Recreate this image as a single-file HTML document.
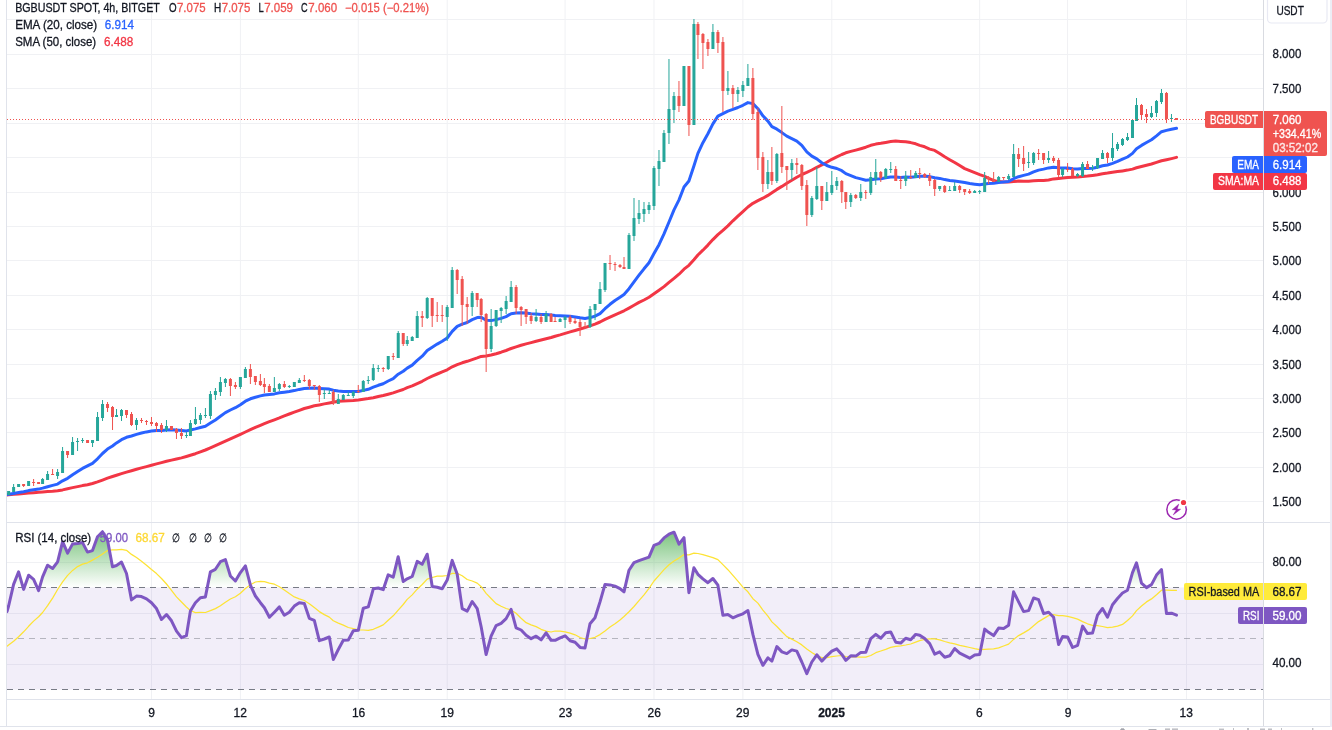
<!DOCTYPE html>
<html><head><meta charset="utf-8"><title>BGBUSDT chart</title>
<style>html,body{margin:0;padding:0;background:#fff;}body{width:1332px;height:730px;overflow:hidden;font-family:"Liberation Sans",Arial,sans-serif;}svg{display:block}</style>
</head><body>
<svg width="1332" height="730" viewBox="0 0 1332 730" font-family="'Liberation Sans', Arial, sans-serif" font-size="12">
<defs>
<linearGradient id="gob" gradientUnits="userSpaceOnUse" x1="0" y1="512" x2="0" y2="587.5"><stop offset="0" stop-color="#4caf50" stop-opacity="1"/><stop offset="1" stop-color="#4caf50" stop-opacity="0"/></linearGradient>
<clipPath id="cm"><rect x="7" y="0" width="1256" height="522"/></clipPath>
<clipPath id="cr"><rect x="7" y="523" width="1256" height="176"/></clipPath>
<clipPath id="cob"><rect x="7" y="523" width="1256" height="64.5"/></clipPath>
</defs>
<rect width="1332" height="730" fill="#fff"/>
<g stroke="#f0f1f4" stroke-width="1" shape-rendering="crispEdges">
<line x1="7" x2="1263" y1="19.5" y2="19.5"/>
<line x1="7" x2="1263" y1="54.5" y2="54.5"/>
<line x1="7" x2="1263" y1="88.5" y2="88.5"/>
<line x1="7" x2="1263" y1="123.5" y2="123.5"/>
<line x1="7" x2="1263" y1="157.5" y2="157.5"/>
<line x1="7" x2="1263" y1="192.5" y2="192.5"/>
<line x1="7" x2="1263" y1="226.5" y2="226.5"/>
<line x1="7" x2="1263" y1="260.5" y2="260.5"/>
<line x1="7" x2="1263" y1="295.5" y2="295.5"/>
<line x1="7" x2="1263" y1="329.5" y2="329.5"/>
<line x1="7" x2="1263" y1="364.5" y2="364.5"/>
<line x1="7" x2="1263" y1="398.5" y2="398.5"/>
<line x1="7" x2="1263" y1="432.5" y2="432.5"/>
<line x1="7" x2="1263" y1="467.5" y2="467.5"/>
<line x1="7" x2="1263" y1="501.5" y2="501.5"/>
<line x1="151.48" x2="151.48" y1="0" y2="699" shape-rendering="auto"/>
<line x1="240.39" x2="240.39" y1="0" y2="699" shape-rendering="auto"/>
<line x1="358.27" x2="358.27" y1="0" y2="699" shape-rendering="auto"/>
<line x1="447.19" x2="447.19" y1="0" y2="699" shape-rendering="auto"/>
<line x1="565.07" x2="565.07" y1="0" y2="699" shape-rendering="auto"/>
<line x1="653.98" x2="653.98" y1="0" y2="699" shape-rendering="auto"/>
<line x1="742.89" x2="742.89" y1="0" y2="699" shape-rendering="auto"/>
<line x1="831.80" x2="831.80" y1="0" y2="699" shape-rendering="auto"/>
<line x1="979.66" x2="979.66" y1="0" y2="699" shape-rendering="auto"/>
<line x1="1067.57" x2="1067.57" y1="0" y2="699" shape-rendering="auto"/>
<line x1="1186.45" x2="1186.45" y1="0" y2="699" shape-rendering="auto"/>
<line x1="7" x2="1263" y1="562.5" y2="562.5"/>
<line x1="7" x2="1263" y1="613.5" y2="613.5"/>
<line x1="7" x2="1263" y1="664.5" y2="664.5"/>
</g>
<g clip-path="url(#cm)" fill="none" stroke-linejoin="round" stroke-linecap="round">
<path d="M7.0,494.9 L8.6,494.8 L13.6,494.3 L18.6,493.9 L23.6,493.5 L28.6,493.1 L33.6,492.7 L38.6,492.3 L42.6,492.0 L47.6,491.6 L52.6,491.3 L57.6,490.8 L62.6,489.9 L67.6,488.8 L72.6,487.6 L77.6,486.6 L82.5,485.6 L87.5,484.7 L92.5,483.5 L97.5,481.9 L102.5,480.1 L107.5,478.2 L112.5,476.5 L116.5,475.2 L121.5,473.6 L126.5,472.1 L131.5,470.7 L136.5,469.3 L141.5,467.9 L146.5,466.6 L151.5,465.2 L156.5,463.9 L161.5,462.6 L166.5,461.3 L171.5,460.1 L176.5,459.0 L181.5,457.9 L186.4,456.5 L190.4,455.3 L195.4,453.7 L200.4,451.9 L205.4,450.0 L210.4,447.9 L215.4,445.7 L220.4,443.4 L225.4,441.2 L230.4,438.9 L235.4,436.7 L240.4,434.4 L245.4,432.0 L250.4,429.7 L255.4,427.4 L260.4,425.3 L264.4,423.6 L269.4,421.7 L274.4,419.8 L279.4,417.9 L284.3,415.9 L289.3,414.0 L294.3,412.2 L299.3,410.3 L304.3,408.5 L309.3,407.2 L314.3,405.8 L319.3,404.9 L324.3,403.9 L329.3,403.0 L333.3,402.2 L338.3,401.3 L343.3,400.9 L348.3,400.7 L353.3,400.4 L358.3,399.9 L363.3,399.2 L368.3,398.6 L373.3,397.7 L378.3,396.5 L383.2,395.5 L388.2,394.2 L393.2,392.9 L398.2,391.1 L403.2,389.5 L407.2,387.6 L412.2,385.9 L417.2,383.6 L422.2,381.3 L427.2,378.5 L432.2,376.1 L437.2,374.0 L442.2,371.9 L447.2,369.8 L452.2,366.8 L457.2,364.6 L462.2,362.8 L467.2,361.3 L472.2,359.6 L477.2,357.9 L481.2,356.4 L486.1,355.9 L491.1,355.0 L496.1,353.7 L501.1,352.2 L506.1,350.5 L511.1,348.5 L516.1,346.9 L521.1,345.3 L526.1,343.9 L531.1,342.6 L536.1,341.2 L541.1,340.0 L546.1,338.7 L551.1,337.5 L555.1,336.2 L560.1,334.9 L565.1,333.4 L570.1,331.9 L575.1,330.5 L580.1,329.0 L585.0,327.6 L590.0,325.9 L595.0,324.1 L600.0,322.0 L605.0,319.4 L610.0,317.1 L615.0,314.8 L620.0,312.7 L624.0,310.8 L629.0,308.1 L634.0,305.3 L639.0,302.4 L644.0,300.0 L649.0,297.2 L654.0,293.7 L659.0,290.2 L664.0,286.6 L669.0,282.4 L674.0,278.4 L679.0,274.2 L684.0,269.2 L688.9,265.3 L693.9,259.7 L697.9,255.0 L702.9,250.2 L707.9,245.1 L712.9,239.6 L717.9,234.6 L722.9,230.4 L727.9,225.9 L732.9,220.8 L737.9,216.1 L742.9,211.6 L747.9,207.0 L752.9,203.3 L757.9,200.7 L762.9,198.2 L767.9,195.4 L771.9,192.7 L776.9,189.4 L781.9,186.4 L786.8,183.3 L791.8,180.3 L796.8,177.2 L801.8,174.5 L806.8,172.4 L811.8,170.0 L816.8,167.3 L821.8,164.9 L826.8,162.2 L831.8,159.3 L836.8,156.8 L841.8,154.5 L845.8,152.8 L850.8,151.4 L855.8,150.1 L860.8,148.7 L865.8,147.2 L870.8,145.3 L875.8,144.1 L880.8,143.3 L885.7,142.4 L890.7,141.6 L895.7,141.1 L900.7,141.4 L905.7,141.7 L910.7,142.6 L915.7,143.8 L919.7,145.4 L924.7,146.8 L929.7,149.1 L934.7,150.4 L939.7,153.6 L944.7,156.8 L949.7,159.7 L954.7,162.5 L959.7,165.6 L964.7,168.6 L969.7,170.7 L974.7,172.7 L979.7,174.7 L984.7,176.4 L988.6,178.3 L993.6,180.4 L998.6,181.6 L1003.6,182.0 L1008.6,181.9 L1013.6,181.5 L1018.6,181.1 L1023.6,181.3 L1028.6,181.2 L1033.6,180.8 L1038.6,180.6 L1043.6,180.5 L1048.6,180.0 L1053.6,178.9 L1058.6,178.5 L1062.6,178.1 L1067.6,177.5 L1072.6,177.2 L1077.6,177.0 L1082.6,176.6 L1087.5,176.1 L1092.5,175.4 L1097.5,174.7 L1102.5,173.8 L1107.5,173.1 L1112.5,172.2 L1117.5,171.6 L1122.5,170.9 L1127.5,170.1 L1132.5,169.1 L1136.5,167.8 L1141.5,166.5 L1146.5,165.2 L1151.5,164.0 L1156.5,162.4 L1161.5,160.8 L1166.5,159.7 L1171.5,158.6 L1176.5,157.4" stroke="#f23645" stroke-width="3"/>
<path d="M7.0,494.4 L8.6,494.2 L13.6,493.4 L18.6,492.5 L23.6,491.7 L28.6,490.6 L33.6,489.8 L38.6,489.1 L42.6,488.1 L47.6,486.7 L52.6,485.4 L57.6,484.1 L62.6,480.8 L67.6,478.3 L72.6,474.8 L77.6,471.5 L82.5,468.4 L87.5,465.8 L92.5,463.3 L97.5,458.8 L102.5,453.5 L107.5,449.1 L112.5,446.0 L116.5,442.9 L121.5,439.7 L126.5,437.3 L131.5,436.0 L136.5,434.4 L141.5,433.0 L146.5,431.9 L151.5,431.1 L156.5,430.5 L161.5,430.4 L166.5,429.9 L171.5,429.8 L176.5,430.1 L181.5,430.5 L186.4,430.9 L190.4,430.0 L195.4,428.9 L200.4,427.5 L205.4,426.3 L210.4,423.1 L215.4,420.0 L220.4,416.3 L225.4,412.6 L230.4,410.0 L235.4,407.7 L240.4,404.7 L245.4,401.2 L250.4,398.8 L255.4,397.2 L260.4,395.9 L264.4,395.0 L269.4,394.5 L274.4,393.9 L279.4,392.8 L284.3,392.2 L289.3,391.5 L294.3,390.6 L299.3,389.4 L304.3,388.5 L309.3,388.2 L314.3,387.9 L319.3,388.4 L324.3,388.8 L329.3,389.1 L333.3,390.3 L338.3,391.1 L343.3,391.4 L348.3,391.6 L353.3,391.5 L358.3,391.5 L363.3,390.4 L368.3,389.3 L373.3,387.2 L378.3,385.3 L383.2,383.7 L388.2,381.0 L393.2,378.6 L398.2,374.2 L403.2,371.2 L407.2,368.1 L412.2,365.1 L417.2,360.3 L422.2,356.2 L427.2,350.5 L432.2,347.2 L437.2,344.1 L442.2,341.3 L447.2,338.0 L452.2,331.4 L457.2,326.4 L462.2,324.2 L467.2,322.5 L472.2,319.6 L477.2,317.6 L481.2,317.2 L486.1,320.2 L491.1,320.6 L496.1,319.6 L501.1,318.4 L506.1,316.6 L511.1,313.7 L516.1,313.1 L521.1,312.7 L526.1,313.0 L531.1,313.7 L536.1,313.9 L541.1,314.6 L546.1,314.4 L551.1,315.0 L555.1,315.6 L560.1,315.8 L565.1,315.9 L570.1,316.3 L575.1,316.9 L580.1,317.8 L585.0,318.5 L590.0,317.6 L595.0,316.2 L600.0,313.6 L605.0,308.7 L610.0,304.3 L615.0,300.5 L620.0,297.2 L624.0,294.4 L629.0,288.7 L634.0,281.9 L639.0,275.2 L644.0,268.8 L649.0,262.7 L654.0,253.5 L659.0,244.7 L664.0,233.9 L669.0,222.0 L674.0,209.9 L679.0,199.9 L684.0,187.0 L688.9,181.0 L693.9,166.0 L697.9,153.4 L702.9,142.7 L707.9,133.7 L712.9,123.9 L717.9,116.1 L722.9,113.6 L727.9,111.1 L732.9,109.4 L737.9,107.5 L742.9,105.3 L747.9,102.6 L752.9,103.6 L757.9,108.7 L762.9,115.8 L767.9,121.1 L771.9,126.7 L776.9,129.2 L781.9,132.6 L786.8,136.1 L791.8,138.6 L796.8,141.1 L801.8,145.3 L806.8,151.8 L811.8,156.1 L816.8,158.9 L821.8,162.8 L826.8,165.5 L831.8,167.3 L836.8,168.5 L841.8,170.7 L845.8,173.6 L850.8,175.6 L855.8,177.6 L860.8,178.9 L865.8,180.2 L870.8,179.8 L875.8,179.0 L880.8,178.8 L885.7,177.8 L890.7,176.9 L895.7,177.1 L900.7,177.4 L905.7,177.1 L910.7,177.2 L915.7,176.7 L919.7,176.3 L924.7,176.3 L929.7,176.6 L934.7,177.7 L939.7,178.4 L944.7,179.6 L949.7,180.5 L954.7,181.0 L959.7,181.7 L964.7,182.6 L969.7,183.5 L974.7,184.2 L979.7,184.8 L984.7,184.0 L988.6,183.5 L993.6,183.2 L998.6,182.5 L1003.6,182.0 L1008.6,181.4 L1013.6,178.7 L1018.6,176.7 L1023.6,175.4 L1028.6,174.1 L1033.6,171.9 L1038.6,170.1 L1043.6,169.1 L1048.6,167.9 L1053.6,167.2 L1058.6,167.8 L1062.6,167.9 L1067.6,168.0 L1072.6,168.7 L1077.6,169.1 L1082.6,168.6 L1087.5,168.5 L1092.5,168.3 L1097.5,167.2 L1102.5,165.8 L1107.5,165.0 L1112.5,163.3 L1117.5,161.4 L1122.5,159.2 L1127.5,157.0 L1132.5,153.4 L1136.5,148.7 L1141.5,145.4 L1146.5,142.5 L1151.5,139.7 L1156.5,135.9 L1161.5,131.7 L1166.5,130.4 L1171.5,129.2 L1176.5,128.3" stroke="#2962ff" stroke-width="3"/>
</g>
<g clip-path="url(#cm)"><g transform="translate(0.1307,0) scale(0.999006,1)">
<rect x="8" y="491" width="1" height="4" fill="#26a69a"/>
<rect x="7" y="491" width="3" height="4" fill="#26a69a"/>
<rect x="13" y="484" width="1" height="8" fill="#26a69a"/>
<rect x="12" y="487" width="3" height="5" fill="#26a69a"/>
<rect x="18" y="484" width="1" height="3" fill="#26a69a"/>
<rect x="17" y="484" width="3" height="3" fill="#26a69a"/>
<rect x="23" y="484" width="1" height="3" fill="#ef5350"/>
<rect x="22" y="484" width="3" height="2" fill="#ef5350"/>
<rect x="28" y="481" width="1" height="5" fill="#26a69a"/>
<rect x="27" y="481" width="3" height="5" fill="#26a69a"/>
<rect x="33" y="479" width="1" height="7" fill="#ef5350"/>
<rect x="32" y="482" width="3" height="1" fill="#ef5350"/>
<rect x="38" y="482" width="1" height="2" fill="#ef5350"/>
<rect x="37" y="482" width="3" height="2" fill="#ef5350"/>
<rect x="42" y="478" width="1" height="6" fill="#26a69a"/>
<rect x="41" y="479" width="3" height="5" fill="#26a69a"/>
<rect x="47" y="471" width="1" height="9" fill="#26a69a"/>
<rect x="46" y="474" width="3" height="6" fill="#26a69a"/>
<rect x="52" y="469" width="1" height="6" fill="#ef5350"/>
<rect x="51" y="474" width="3" height="1" fill="#ef5350"/>
<rect x="57" y="469" width="1" height="10" fill="#26a69a"/>
<rect x="56" y="472" width="3" height="4" fill="#26a69a"/>
<rect x="62" y="447" width="1" height="26" fill="#26a69a"/>
<rect x="61" y="451" width="3" height="22" fill="#26a69a"/>
<rect x="67" y="451" width="1" height="7" fill="#ef5350"/>
<rect x="66" y="451" width="3" height="4" fill="#ef5350"/>
<rect x="72" y="437" width="1" height="18" fill="#26a69a"/>
<rect x="71" y="442" width="3" height="13" fill="#26a69a"/>
<rect x="77" y="438" width="1" height="13" fill="#26a69a"/>
<rect x="76" y="441" width="3" height="1" fill="#26a69a"/>
<rect x="82" y="438" width="1" height="5" fill="#26a69a"/>
<rect x="81" y="440" width="3" height="1" fill="#26a69a"/>
<rect x="87" y="440" width="1" height="3" fill="#ef5350"/>
<rect x="86" y="440" width="3" height="3" fill="#ef5350"/>
<rect x="92" y="440" width="1" height="7" fill="#26a69a"/>
<rect x="91" y="440" width="3" height="3" fill="#26a69a"/>
<rect x="97" y="412" width="1" height="29" fill="#26a69a"/>
<rect x="96" y="417" width="3" height="24" fill="#26a69a"/>
<rect x="102" y="400" width="1" height="21" fill="#26a69a"/>
<rect x="101" y="404" width="3" height="14" fill="#26a69a"/>
<rect x="107" y="402" width="1" height="10" fill="#ef5350"/>
<rect x="106" y="404" width="3" height="4" fill="#ef5350"/>
<rect x="112" y="406" width="1" height="24" fill="#ef5350"/>
<rect x="111" y="407" width="3" height="10" fill="#ef5350"/>
<rect x="116" y="409" width="1" height="8" fill="#26a69a"/>
<rect x="115" y="415" width="3" height="2" fill="#26a69a"/>
<rect x="121" y="409" width="1" height="12" fill="#26a69a"/>
<rect x="120" y="410" width="3" height="6" fill="#26a69a"/>
<rect x="126" y="410" width="1" height="8" fill="#ef5350"/>
<rect x="125" y="410" width="3" height="5" fill="#ef5350"/>
<rect x="131" y="412" width="1" height="14" fill="#ef5350"/>
<rect x="130" y="414" width="3" height="11" fill="#ef5350"/>
<rect x="136" y="418" width="1" height="12" fill="#26a69a"/>
<rect x="135" y="420" width="3" height="5" fill="#26a69a"/>
<rect x="141" y="418" width="1" height="5" fill="#ef5350"/>
<rect x="140" y="420" width="3" height="1" fill="#ef5350"/>
<rect x="146" y="420" width="1" height="5" fill="#ef5350"/>
<rect x="145" y="421" width="3" height="1" fill="#ef5350"/>
<rect x="151" y="417" width="1" height="9" fill="#ef5350"/>
<rect x="150" y="422" width="3" height="2" fill="#ef5350"/>
<rect x="156" y="422" width="1" height="10" fill="#ef5350"/>
<rect x="155" y="423" width="3" height="3" fill="#ef5350"/>
<rect x="161" y="423" width="1" height="10" fill="#ef5350"/>
<rect x="160" y="425" width="3" height="5" fill="#ef5350"/>
<rect x="166" y="420" width="1" height="12" fill="#26a69a"/>
<rect x="165" y="426" width="3" height="4" fill="#26a69a"/>
<rect x="171" y="426" width="1" height="4" fill="#ef5350"/>
<rect x="170" y="426" width="3" height="4" fill="#ef5350"/>
<rect x="176" y="428" width="1" height="11" fill="#ef5350"/>
<rect x="175" y="429" width="3" height="4" fill="#ef5350"/>
<rect x="181" y="428" width="1" height="11" fill="#ef5350"/>
<rect x="180" y="433" width="3" height="3" fill="#ef5350"/>
<rect x="186" y="432" width="1" height="6" fill="#26a69a"/>
<rect x="185" y="435" width="3" height="1" fill="#26a69a"/>
<rect x="190" y="420" width="1" height="16" fill="#26a69a"/>
<rect x="189" y="423" width="3" height="13" fill="#26a69a"/>
<rect x="195" y="407" width="1" height="18" fill="#26a69a"/>
<rect x="194" y="419" width="3" height="5" fill="#26a69a"/>
<rect x="200" y="413" width="1" height="11" fill="#26a69a"/>
<rect x="199" y="415" width="3" height="5" fill="#26a69a"/>
<rect x="205" y="408" width="1" height="10" fill="#26a69a"/>
<rect x="204" y="415" width="3" height="1" fill="#26a69a"/>
<rect x="210" y="391" width="1" height="28" fill="#26a69a"/>
<rect x="209" y="394" width="3" height="22" fill="#26a69a"/>
<rect x="215" y="388" width="1" height="12" fill="#26a69a"/>
<rect x="214" y="391" width="3" height="4" fill="#26a69a"/>
<rect x="220" y="377" width="1" height="19" fill="#26a69a"/>
<rect x="219" y="382" width="3" height="10" fill="#26a69a"/>
<rect x="225" y="378" width="1" height="9" fill="#26a69a"/>
<rect x="224" y="379" width="3" height="4" fill="#26a69a"/>
<rect x="230" y="378" width="1" height="18" fill="#ef5350"/>
<rect x="229" y="379" width="3" height="7" fill="#ef5350"/>
<rect x="235" y="382" width="1" height="7" fill="#ef5350"/>
<rect x="234" y="385" width="3" height="2" fill="#ef5350"/>
<rect x="240" y="377" width="1" height="12" fill="#26a69a"/>
<rect x="239" y="377" width="3" height="10" fill="#26a69a"/>
<rect x="245" y="367" width="1" height="11" fill="#26a69a"/>
<rect x="244" y="369" width="3" height="9" fill="#26a69a"/>
<rect x="250" y="364" width="1" height="20" fill="#ef5350"/>
<rect x="249" y="369" width="3" height="8" fill="#ef5350"/>
<rect x="255" y="376" width="1" height="9" fill="#ef5350"/>
<rect x="254" y="376" width="3" height="6" fill="#ef5350"/>
<rect x="260" y="374" width="1" height="12" fill="#ef5350"/>
<rect x="259" y="381" width="3" height="4" fill="#ef5350"/>
<rect x="264" y="378" width="1" height="15" fill="#ef5350"/>
<rect x="263" y="384" width="3" height="3" fill="#ef5350"/>
<rect x="269" y="384" width="1" height="8" fill="#ef5350"/>
<rect x="268" y="386" width="3" height="6" fill="#ef5350"/>
<rect x="274" y="377" width="1" height="15" fill="#26a69a"/>
<rect x="273" y="388" width="3" height="4" fill="#26a69a"/>
<rect x="279" y="383" width="1" height="8" fill="#26a69a"/>
<rect x="278" y="384" width="3" height="5" fill="#26a69a"/>
<rect x="284" y="381" width="1" height="7" fill="#ef5350"/>
<rect x="283" y="384" width="3" height="3" fill="#ef5350"/>
<rect x="289" y="385" width="1" height="3" fill="#26a69a"/>
<rect x="288" y="386" width="3" height="1" fill="#26a69a"/>
<rect x="294" y="382" width="1" height="5" fill="#26a69a"/>
<rect x="293" y="382" width="3" height="5" fill="#26a69a"/>
<rect x="299" y="378" width="1" height="5" fill="#26a69a"/>
<rect x="298" y="380" width="3" height="3" fill="#26a69a"/>
<rect x="304" y="375" width="1" height="7" fill="#ef5350"/>
<rect x="303" y="380" width="3" height="1" fill="#ef5350"/>
<rect x="309" y="379" width="1" height="10" fill="#ef5350"/>
<rect x="308" y="380" width="3" height="6" fill="#ef5350"/>
<rect x="314" y="385" width="1" height="5" fill="#ef5350"/>
<rect x="313" y="385" width="3" height="1" fill="#ef5350"/>
<rect x="319" y="385" width="1" height="17" fill="#ef5350"/>
<rect x="318" y="386" width="3" height="9" fill="#ef5350"/>
<rect x="324" y="389" width="1" height="10" fill="#26a69a"/>
<rect x="323" y="393" width="3" height="1" fill="#26a69a"/>
<rect x="329" y="390" width="1" height="4" fill="#26a69a"/>
<rect x="328" y="393" width="3" height="1" fill="#26a69a"/>
<rect x="333" y="390" width="1" height="15" fill="#ef5350"/>
<rect x="332" y="392" width="3" height="11" fill="#ef5350"/>
<rect x="338" y="394" width="1" height="10" fill="#26a69a"/>
<rect x="337" y="399" width="3" height="5" fill="#26a69a"/>
<rect x="343" y="394" width="1" height="6" fill="#26a69a"/>
<rect x="342" y="395" width="3" height="5" fill="#26a69a"/>
<rect x="348" y="392" width="1" height="4" fill="#26a69a"/>
<rect x="347" y="395" width="3" height="1" fill="#26a69a"/>
<rect x="353" y="391" width="1" height="7" fill="#26a69a"/>
<rect x="352" y="392" width="3" height="4" fill="#26a69a"/>
<rect x="358" y="385" width="1" height="8" fill="#ef5350"/>
<rect x="357" y="391" width="3" height="1" fill="#ef5350"/>
<rect x="363" y="380" width="1" height="12" fill="#26a69a"/>
<rect x="362" y="381" width="3" height="11" fill="#26a69a"/>
<rect x="368" y="376" width="1" height="8" fill="#26a69a"/>
<rect x="367" y="380" width="3" height="1" fill="#26a69a"/>
<rect x="373" y="364" width="1" height="17" fill="#26a69a"/>
<rect x="372" y="368" width="3" height="12" fill="#26a69a"/>
<rect x="378" y="365" width="1" height="7" fill="#26a69a"/>
<rect x="377" y="368" width="3" height="1" fill="#26a69a"/>
<rect x="383" y="367" width="1" height="5" fill="#ef5350"/>
<rect x="382" y="368" width="3" height="1" fill="#ef5350"/>
<rect x="388" y="356" width="1" height="14" fill="#26a69a"/>
<rect x="387" y="356" width="3" height="13" fill="#26a69a"/>
<rect x="393" y="353" width="1" height="7" fill="#ef5350"/>
<rect x="392" y="356" width="3" height="1" fill="#ef5350"/>
<rect x="398" y="331" width="1" height="27" fill="#26a69a"/>
<rect x="397" y="333" width="3" height="25" fill="#26a69a"/>
<rect x="403" y="333" width="1" height="13" fill="#ef5350"/>
<rect x="402" y="333" width="3" height="11" fill="#ef5350"/>
<rect x="407" y="336" width="1" height="10" fill="#26a69a"/>
<rect x="406" y="340" width="3" height="4" fill="#26a69a"/>
<rect x="412" y="336" width="1" height="5" fill="#26a69a"/>
<rect x="411" y="337" width="3" height="4" fill="#26a69a"/>
<rect x="417" y="311" width="1" height="27" fill="#26a69a"/>
<rect x="416" y="316" width="3" height="22" fill="#26a69a"/>
<rect x="422" y="311" width="1" height="16" fill="#ef5350"/>
<rect x="421" y="316" width="3" height="2" fill="#ef5350"/>
<rect x="427" y="297" width="1" height="22" fill="#26a69a"/>
<rect x="426" y="298" width="3" height="20" fill="#26a69a"/>
<rect x="432" y="298" width="1" height="29" fill="#ef5350"/>
<rect x="431" y="298" width="3" height="18" fill="#ef5350"/>
<rect x="437" y="302" width="1" height="20" fill="#ef5350"/>
<rect x="436" y="315" width="3" height="1" fill="#ef5350"/>
<rect x="442" y="305" width="1" height="17" fill="#ef5350"/>
<rect x="441" y="315" width="3" height="1" fill="#ef5350"/>
<rect x="447" y="305" width="1" height="36" fill="#26a69a"/>
<rect x="446" y="307" width="3" height="10" fill="#26a69a"/>
<rect x="452" y="267" width="1" height="41" fill="#26a69a"/>
<rect x="451" y="270" width="3" height="38" fill="#26a69a"/>
<rect x="457" y="269" width="1" height="25" fill="#ef5350"/>
<rect x="456" y="270" width="3" height="10" fill="#ef5350"/>
<rect x="462" y="276" width="1" height="50" fill="#ef5350"/>
<rect x="461" y="279" width="3" height="26" fill="#ef5350"/>
<rect x="467" y="297" width="1" height="27" fill="#ef5350"/>
<rect x="466" y="304" width="3" height="3" fill="#ef5350"/>
<rect x="472" y="291" width="1" height="25" fill="#26a69a"/>
<rect x="471" y="293" width="3" height="14" fill="#26a69a"/>
<rect x="477" y="293" width="1" height="14" fill="#ef5350"/>
<rect x="476" y="293" width="3" height="7" fill="#ef5350"/>
<rect x="481" y="298" width="1" height="24" fill="#ef5350"/>
<rect x="480" y="299" width="3" height="16" fill="#ef5350"/>
<rect x="486" y="313" width="1" height="59" fill="#ef5350"/>
<rect x="485" y="314" width="3" height="35" fill="#ef5350"/>
<rect x="491" y="309" width="1" height="43" fill="#26a69a"/>
<rect x="490" y="326" width="3" height="23" fill="#26a69a"/>
<rect x="496" y="310" width="1" height="17" fill="#26a69a"/>
<rect x="495" y="310" width="3" height="16" fill="#26a69a"/>
<rect x="501" y="307" width="1" height="16" fill="#26a69a"/>
<rect x="500" y="308" width="3" height="3" fill="#26a69a"/>
<rect x="506" y="296" width="1" height="18" fill="#26a69a"/>
<rect x="505" y="301" width="3" height="8" fill="#26a69a"/>
<rect x="511" y="281" width="1" height="21" fill="#26a69a"/>
<rect x="510" y="287" width="3" height="15" fill="#26a69a"/>
<rect x="516" y="285" width="1" height="29" fill="#ef5350"/>
<rect x="515" y="287" width="3" height="21" fill="#ef5350"/>
<rect x="521" y="306" width="1" height="20" fill="#ef5350"/>
<rect x="520" y="307" width="3" height="3" fill="#ef5350"/>
<rect x="526" y="309" width="1" height="15" fill="#ef5350"/>
<rect x="525" y="309" width="3" height="8" fill="#ef5350"/>
<rect x="531" y="313" width="1" height="11" fill="#ef5350"/>
<rect x="530" y="316" width="3" height="5" fill="#ef5350"/>
<rect x="536" y="309" width="1" height="13" fill="#26a69a"/>
<rect x="535" y="317" width="3" height="4" fill="#26a69a"/>
<rect x="541" y="314" width="1" height="10" fill="#ef5350"/>
<rect x="540" y="317" width="3" height="5" fill="#ef5350"/>
<rect x="546" y="311" width="1" height="11" fill="#26a69a"/>
<rect x="545" y="314" width="3" height="8" fill="#26a69a"/>
<rect x="551" y="313" width="1" height="9" fill="#ef5350"/>
<rect x="550" y="314" width="3" height="8" fill="#ef5350"/>
<rect x="555" y="317" width="1" height="5" fill="#ef5350"/>
<rect x="554" y="321" width="3" height="1" fill="#ef5350"/>
<rect x="560" y="318" width="1" height="4" fill="#26a69a"/>
<rect x="559" y="319" width="3" height="3" fill="#26a69a"/>
<rect x="565" y="316" width="1" height="12" fill="#26a69a"/>
<rect x="564" y="317" width="3" height="3" fill="#26a69a"/>
<rect x="570" y="315" width="1" height="9" fill="#ef5350"/>
<rect x="569" y="317" width="3" height="5" fill="#ef5350"/>
<rect x="575" y="318" width="1" height="6" fill="#ef5350"/>
<rect x="574" y="321" width="3" height="2" fill="#ef5350"/>
<rect x="580" y="319" width="1" height="17" fill="#ef5350"/>
<rect x="579" y="322" width="3" height="5" fill="#ef5350"/>
<rect x="585" y="322" width="1" height="7" fill="#ef5350"/>
<rect x="584" y="326" width="3" height="1" fill="#ef5350"/>
<rect x="590" y="306" width="1" height="22" fill="#26a69a"/>
<rect x="589" y="309" width="3" height="18" fill="#26a69a"/>
<rect x="595" y="304" width="1" height="16" fill="#26a69a"/>
<rect x="594" y="304" width="3" height="6" fill="#26a69a"/>
<rect x="600" y="282" width="1" height="22" fill="#26a69a"/>
<rect x="599" y="289" width="3" height="15" fill="#26a69a"/>
<rect x="605" y="263" width="1" height="29" fill="#26a69a"/>
<rect x="604" y="263" width="3" height="27" fill="#26a69a"/>
<rect x="610" y="255" width="1" height="15" fill="#ef5350"/>
<rect x="609" y="263" width="3" height="1" fill="#ef5350"/>
<rect x="615" y="262" width="1" height="9" fill="#ef5350"/>
<rect x="614" y="264" width="3" height="1" fill="#ef5350"/>
<rect x="620" y="264" width="1" height="4" fill="#ef5350"/>
<rect x="619" y="265" width="3" height="2" fill="#ef5350"/>
<rect x="624" y="257" width="1" height="12" fill="#ef5350"/>
<rect x="623" y="267" width="3" height="2" fill="#ef5350"/>
<rect x="629" y="233" width="1" height="36" fill="#26a69a"/>
<rect x="628" y="235" width="3" height="34" fill="#26a69a"/>
<rect x="634" y="198" width="1" height="43" fill="#26a69a"/>
<rect x="633" y="218" width="3" height="18" fill="#26a69a"/>
<rect x="639" y="200" width="1" height="24" fill="#26a69a"/>
<rect x="638" y="213" width="3" height="6" fill="#26a69a"/>
<rect x="644" y="202" width="1" height="20" fill="#26a69a"/>
<rect x="643" y="209" width="3" height="5" fill="#26a69a"/>
<rect x="649" y="202" width="1" height="12" fill="#26a69a"/>
<rect x="648" y="205" width="3" height="5" fill="#26a69a"/>
<rect x="654" y="166" width="1" height="44" fill="#26a69a"/>
<rect x="653" y="168" width="3" height="38" fill="#26a69a"/>
<rect x="659" y="150" width="1" height="36" fill="#26a69a"/>
<rect x="658" y="161" width="3" height="8" fill="#26a69a"/>
<rect x="664" y="130" width="1" height="32" fill="#26a69a"/>
<rect x="663" y="133" width="3" height="29" fill="#26a69a"/>
<rect x="669" y="59" width="1" height="85" fill="#26a69a"/>
<rect x="668" y="109" width="3" height="24" fill="#26a69a"/>
<rect x="674" y="92" width="1" height="31" fill="#26a69a"/>
<rect x="673" y="96" width="3" height="14" fill="#26a69a"/>
<rect x="679" y="81" width="1" height="31" fill="#ef5350"/>
<rect x="678" y="96" width="3" height="10" fill="#ef5350"/>
<rect x="684" y="66" width="1" height="40" fill="#26a69a"/>
<rect x="683" y="66" width="3" height="40" fill="#26a69a"/>
<rect x="689" y="66" width="1" height="70" fill="#ef5350"/>
<rect x="688" y="66" width="3" height="59" fill="#ef5350"/>
<rect x="694" y="19" width="1" height="106" fill="#26a69a"/>
<rect x="693" y="24" width="3" height="101" fill="#26a69a"/>
<rect x="698" y="22" width="1" height="37" fill="#ef5350"/>
<rect x="697" y="24" width="3" height="11" fill="#ef5350"/>
<rect x="703" y="33" width="1" height="36" fill="#ef5350"/>
<rect x="702" y="34" width="3" height="9" fill="#ef5350"/>
<rect x="708" y="39" width="1" height="17" fill="#ef5350"/>
<rect x="707" y="42" width="3" height="7" fill="#ef5350"/>
<rect x="713" y="24" width="1" height="25" fill="#26a69a"/>
<rect x="712" y="32" width="3" height="17" fill="#26a69a"/>
<rect x="718" y="30" width="1" height="23" fill="#ef5350"/>
<rect x="717" y="32" width="3" height="11" fill="#ef5350"/>
<rect x="723" y="37" width="1" height="75" fill="#ef5350"/>
<rect x="722" y="42" width="3" height="49" fill="#ef5350"/>
<rect x="728" y="71" width="1" height="24" fill="#26a69a"/>
<rect x="727" y="88" width="3" height="3" fill="#26a69a"/>
<rect x="733" y="85" width="1" height="23" fill="#ef5350"/>
<rect x="732" y="88" width="3" height="6" fill="#ef5350"/>
<rect x="738" y="87" width="1" height="15" fill="#26a69a"/>
<rect x="737" y="90" width="3" height="4" fill="#26a69a"/>
<rect x="743" y="81" width="1" height="16" fill="#26a69a"/>
<rect x="742" y="85" width="3" height="6" fill="#26a69a"/>
<rect x="748" y="64" width="1" height="22" fill="#26a69a"/>
<rect x="747" y="78" width="3" height="8" fill="#26a69a"/>
<rect x="753" y="68" width="1" height="52" fill="#ef5350"/>
<rect x="752" y="78" width="3" height="36" fill="#ef5350"/>
<rect x="758" y="108" width="1" height="62" fill="#ef5350"/>
<rect x="757" y="112" width="3" height="46" fill="#ef5350"/>
<rect x="763" y="152" width="1" height="40" fill="#ef5350"/>
<rect x="762" y="157" width="3" height="27" fill="#ef5350"/>
<rect x="768" y="160" width="1" height="29" fill="#26a69a"/>
<rect x="767" y="172" width="3" height="12" fill="#26a69a"/>
<rect x="772" y="147" width="1" height="38" fill="#ef5350"/>
<rect x="771" y="172" width="3" height="9" fill="#ef5350"/>
<rect x="777" y="153" width="1" height="30" fill="#26a69a"/>
<rect x="776" y="154" width="3" height="27" fill="#26a69a"/>
<rect x="782" y="106" width="1" height="67" fill="#ef5350"/>
<rect x="781" y="153" width="3" height="14" fill="#ef5350"/>
<rect x="787" y="166" width="1" height="24" fill="#ef5350"/>
<rect x="786" y="166" width="3" height="4" fill="#ef5350"/>
<rect x="792" y="159" width="1" height="21" fill="#26a69a"/>
<rect x="791" y="163" width="3" height="7" fill="#26a69a"/>
<rect x="797" y="158" width="1" height="16" fill="#ef5350"/>
<rect x="796" y="163" width="3" height="2" fill="#ef5350"/>
<rect x="802" y="164" width="1" height="26" fill="#ef5350"/>
<rect x="801" y="165" width="3" height="21" fill="#ef5350"/>
<rect x="807" y="180" width="1" height="46" fill="#ef5350"/>
<rect x="806" y="185" width="3" height="30" fill="#ef5350"/>
<rect x="812" y="196" width="1" height="21" fill="#26a69a"/>
<rect x="811" y="198" width="3" height="17" fill="#26a69a"/>
<rect x="817" y="167" width="1" height="33" fill="#26a69a"/>
<rect x="816" y="186" width="3" height="13" fill="#26a69a"/>
<rect x="822" y="186" width="1" height="24" fill="#ef5350"/>
<rect x="821" y="186" width="3" height="15" fill="#ef5350"/>
<rect x="827" y="182" width="1" height="19" fill="#26a69a"/>
<rect x="826" y="192" width="3" height="9" fill="#26a69a"/>
<rect x="832" y="171" width="1" height="24" fill="#26a69a"/>
<rect x="831" y="185" width="3" height="8" fill="#26a69a"/>
<rect x="837" y="177" width="1" height="13" fill="#26a69a"/>
<rect x="836" y="181" width="3" height="5" fill="#26a69a"/>
<rect x="842" y="180" width="1" height="23" fill="#ef5350"/>
<rect x="841" y="181" width="3" height="11" fill="#ef5350"/>
<rect x="846" y="192" width="1" height="17" fill="#ef5350"/>
<rect x="845" y="192" width="3" height="10" fill="#ef5350"/>
<rect x="851" y="193" width="1" height="14" fill="#26a69a"/>
<rect x="850" y="195" width="3" height="7" fill="#26a69a"/>
<rect x="856" y="194" width="1" height="5" fill="#ef5350"/>
<rect x="855" y="195" width="3" height="3" fill="#ef5350"/>
<rect x="861" y="184" width="1" height="17" fill="#26a69a"/>
<rect x="860" y="192" width="3" height="6" fill="#26a69a"/>
<rect x="866" y="190" width="1" height="9" fill="#ef5350"/>
<rect x="865" y="192" width="3" height="1" fill="#ef5350"/>
<rect x="871" y="172" width="1" height="23" fill="#26a69a"/>
<rect x="870" y="177" width="3" height="16" fill="#26a69a"/>
<rect x="876" y="159" width="1" height="26" fill="#26a69a"/>
<rect x="875" y="172" width="3" height="7" fill="#26a69a"/>
<rect x="881" y="171" width="1" height="11" fill="#ef5350"/>
<rect x="880" y="172" width="3" height="6" fill="#ef5350"/>
<rect x="886" y="168" width="1" height="11" fill="#26a69a"/>
<rect x="885" y="169" width="3" height="9" fill="#26a69a"/>
<rect x="891" y="162" width="1" height="11" fill="#26a69a"/>
<rect x="890" y="169" width="3" height="1" fill="#26a69a"/>
<rect x="896" y="166" width="1" height="15" fill="#ef5350"/>
<rect x="895" y="169" width="3" height="12" fill="#ef5350"/>
<rect x="901" y="176" width="1" height="13" fill="#ef5350"/>
<rect x="900" y="180" width="3" height="1" fill="#ef5350"/>
<rect x="906" y="171" width="1" height="15" fill="#26a69a"/>
<rect x="905" y="176" width="3" height="5" fill="#26a69a"/>
<rect x="911" y="170" width="1" height="9" fill="#ef5350"/>
<rect x="910" y="177" width="3" height="1" fill="#ef5350"/>
<rect x="916" y="171" width="1" height="7" fill="#26a69a"/>
<rect x="915" y="173" width="3" height="5" fill="#26a69a"/>
<rect x="920" y="168" width="1" height="11" fill="#ef5350"/>
<rect x="919" y="173" width="3" height="1" fill="#ef5350"/>
<rect x="925" y="173" width="1" height="5" fill="#ef5350"/>
<rect x="924" y="174" width="3" height="3" fill="#ef5350"/>
<rect x="930" y="173" width="1" height="13" fill="#ef5350"/>
<rect x="929" y="176" width="3" height="5" fill="#ef5350"/>
<rect x="935" y="179" width="1" height="17" fill="#ef5350"/>
<rect x="934" y="180" width="3" height="9" fill="#ef5350"/>
<rect x="940" y="186" width="1" height="5" fill="#26a69a"/>
<rect x="939" y="186" width="3" height="3" fill="#26a69a"/>
<rect x="945" y="185" width="1" height="8" fill="#ef5350"/>
<rect x="944" y="186" width="3" height="6" fill="#ef5350"/>
<rect x="950" y="186" width="1" height="5" fill="#26a69a"/>
<rect x="949" y="190" width="3" height="1" fill="#26a69a"/>
<rect x="955" y="182" width="1" height="9" fill="#26a69a"/>
<rect x="954" y="186" width="3" height="5" fill="#26a69a"/>
<rect x="960" y="185" width="1" height="8" fill="#ef5350"/>
<rect x="959" y="186" width="3" height="4" fill="#ef5350"/>
<rect x="965" y="189" width="1" height="6" fill="#ef5350"/>
<rect x="964" y="189" width="3" height="3" fill="#ef5350"/>
<rect x="970" y="189" width="1" height="5" fill="#ef5350"/>
<rect x="969" y="191" width="3" height="2" fill="#ef5350"/>
<rect x="975" y="190" width="1" height="3" fill="#26a69a"/>
<rect x="974" y="191" width="3" height="2" fill="#26a69a"/>
<rect x="980" y="190" width="1" height="4" fill="#26a69a"/>
<rect x="979" y="191" width="3" height="1" fill="#26a69a"/>
<rect x="985" y="172" width="1" height="20" fill="#26a69a"/>
<rect x="984" y="178" width="3" height="14" fill="#26a69a"/>
<rect x="989" y="176" width="1" height="8" fill="#ef5350"/>
<rect x="988" y="177" width="3" height="2" fill="#ef5350"/>
<rect x="994" y="172" width="1" height="10" fill="#ef5350"/>
<rect x="993" y="179" width="3" height="3" fill="#ef5350"/>
<rect x="999" y="176" width="1" height="6" fill="#26a69a"/>
<rect x="998" y="177" width="3" height="5" fill="#26a69a"/>
<rect x="1004" y="177" width="1" height="3" fill="#ef5350"/>
<rect x="1003" y="177" width="3" height="1" fill="#ef5350"/>
<rect x="1009" y="174" width="1" height="6" fill="#26a69a"/>
<rect x="1008" y="176" width="3" height="3" fill="#26a69a"/>
<rect x="1014" y="144" width="1" height="33" fill="#26a69a"/>
<rect x="1013" y="154" width="3" height="23" fill="#26a69a"/>
<rect x="1019" y="148" width="1" height="19" fill="#ef5350"/>
<rect x="1018" y="154" width="3" height="5" fill="#ef5350"/>
<rect x="1024" y="146" width="1" height="25" fill="#ef5350"/>
<rect x="1023" y="158" width="3" height="6" fill="#ef5350"/>
<rect x="1029" y="152" width="1" height="16" fill="#26a69a"/>
<rect x="1028" y="162" width="3" height="1" fill="#26a69a"/>
<rect x="1034" y="152" width="1" height="13" fill="#26a69a"/>
<rect x="1033" y="153" width="3" height="10" fill="#26a69a"/>
<rect x="1039" y="149" width="1" height="11" fill="#ef5350"/>
<rect x="1038" y="153" width="3" height="1" fill="#ef5350"/>
<rect x="1044" y="153" width="1" height="11" fill="#ef5350"/>
<rect x="1043" y="153" width="3" height="7" fill="#ef5350"/>
<rect x="1049" y="151" width="1" height="12" fill="#26a69a"/>
<rect x="1048" y="158" width="3" height="2" fill="#26a69a"/>
<rect x="1054" y="156" width="1" height="7" fill="#ef5350"/>
<rect x="1053" y="158" width="3" height="3" fill="#ef5350"/>
<rect x="1059" y="158" width="1" height="19" fill="#ef5350"/>
<rect x="1058" y="160" width="3" height="15" fill="#ef5350"/>
<rect x="1063" y="168" width="1" height="9" fill="#26a69a"/>
<rect x="1062" y="169" width="3" height="6" fill="#26a69a"/>
<rect x="1068" y="163" width="1" height="9" fill="#ef5350"/>
<rect x="1067" y="169" width="3" height="1" fill="#ef5350"/>
<rect x="1073" y="167" width="1" height="9" fill="#ef5350"/>
<rect x="1072" y="169" width="3" height="7" fill="#ef5350"/>
<rect x="1078" y="173" width="1" height="4" fill="#26a69a"/>
<rect x="1077" y="174" width="3" height="2" fill="#26a69a"/>
<rect x="1083" y="162" width="1" height="15" fill="#26a69a"/>
<rect x="1082" y="164" width="3" height="12" fill="#26a69a"/>
<rect x="1088" y="161" width="1" height="8" fill="#ef5350"/>
<rect x="1087" y="164" width="3" height="5" fill="#ef5350"/>
<rect x="1093" y="165" width="1" height="6" fill="#26a69a"/>
<rect x="1092" y="167" width="3" height="1" fill="#26a69a"/>
<rect x="1098" y="158" width="1" height="11" fill="#26a69a"/>
<rect x="1097" y="158" width="3" height="10" fill="#26a69a"/>
<rect x="1103" y="150" width="1" height="9" fill="#26a69a"/>
<rect x="1102" y="153" width="3" height="6" fill="#26a69a"/>
<rect x="1108" y="152" width="1" height="11" fill="#ef5350"/>
<rect x="1107" y="153" width="3" height="5" fill="#ef5350"/>
<rect x="1113" y="133" width="1" height="28" fill="#26a69a"/>
<rect x="1112" y="148" width="3" height="10" fill="#26a69a"/>
<rect x="1118" y="142" width="1" height="9" fill="#26a69a"/>
<rect x="1117" y="144" width="3" height="5" fill="#26a69a"/>
<rect x="1123" y="138" width="1" height="8" fill="#26a69a"/>
<rect x="1122" y="139" width="3" height="6" fill="#26a69a"/>
<rect x="1128" y="133" width="1" height="8" fill="#26a69a"/>
<rect x="1127" y="137" width="3" height="3" fill="#26a69a"/>
<rect x="1133" y="119" width="1" height="19" fill="#26a69a"/>
<rect x="1132" y="120" width="3" height="18" fill="#26a69a"/>
<rect x="1137" y="98" width="1" height="23" fill="#26a69a"/>
<rect x="1136" y="105" width="3" height="16" fill="#26a69a"/>
<rect x="1142" y="104" width="1" height="16" fill="#ef5350"/>
<rect x="1141" y="105" width="3" height="10" fill="#ef5350"/>
<rect x="1147" y="109" width="1" height="14" fill="#ef5350"/>
<rect x="1146" y="114" width="3" height="3" fill="#ef5350"/>
<rect x="1152" y="106" width="1" height="12" fill="#26a69a"/>
<rect x="1151" y="113" width="3" height="4" fill="#26a69a"/>
<rect x="1157" y="100" width="1" height="17" fill="#26a69a"/>
<rect x="1156" y="101" width="3" height="12" fill="#26a69a"/>
<rect x="1162" y="89" width="1" height="15" fill="#26a69a"/>
<rect x="1161" y="93" width="3" height="9" fill="#26a69a"/>
<rect x="1167" y="92" width="1" height="31" fill="#ef5350"/>
<rect x="1166" y="93" width="3" height="26" fill="#ef5350"/>
<rect x="1172" y="114" width="1" height="8" fill="#26a69a"/>
<rect x="1171" y="118" width="3" height="1" fill="#26a69a"/>
<rect x="1177" y="118" width="1" height="2" fill="#ef5350"/>
<rect x="1176" y="118" width="3" height="2" fill="#ef5350"/>
</g></g>
<line x1="7" x2="1263" y1="119.5" y2="119.5" stroke="#ef5350" stroke-width="1" stroke-dasharray="1 2" shape-rendering="crispEdges"/>
<rect x="7" y="587.5" width="1256" height="102" fill="#7e57c2" fill-opacity="0.1"/>
<path d="M7.0,611.6 L8.6,606.0 L13.6,584.4 L18.6,571.8 L23.6,589.4 L28.6,575.2 L33.6,579.4 L38.6,590.6 L42.6,576.9 L47.6,565.2 L52.6,568.5 L57.6,561.8 L62.6,541.7 L67.6,553.1 L72.6,543.9 L77.6,543.4 L82.5,542.6 L87.5,552.1 L92.5,550.6 L97.5,536.7 L102.5,531.7 L107.5,540.1 L112.5,566.8 L116.5,565.5 L121.5,562.1 L126.5,573.5 L131.5,599.9 L136.5,596.1 L141.5,596.6 L146.5,598.9 L151.5,602.8 L156.5,608.6 L161.5,619.5 L166.5,614.5 L171.5,620.8 L176.5,631.2 L181.5,637.6 L186.4,635.7 L190.4,611.1 L195.4,602.8 L200.4,597.8 L205.4,596.9 L210.4,571.8 L215.4,569.3 L220.4,561.7 L225.4,559.6 L230.4,576.0 L235.4,581.0 L240.4,572.6 L245.4,565.9 L250.4,585.2 L255.4,596.0 L260.4,602.7 L264.4,607.7 L269.4,617.3 L274.4,612.2 L279.4,606.9 L284.3,615.3 L289.3,612.2 L294.3,606.1 L299.3,602.7 L304.3,603.5 L309.3,618.3 L314.3,620.3 L319.3,640.7 L324.3,639.0 L329.3,637.0 L333.3,659.6 L338.3,649.5 L343.3,640.3 L348.3,640.0 L353.3,630.8 L358.3,630.3 L363.3,608.2 L368.3,606.9 L373.3,588.8 L378.3,588.0 L383.2,589.7 L388.2,574.8 L393.2,577.1 L398.2,556.7 L403.2,581.5 L407.2,578.8 L412.2,576.5 L417.2,561.4 L422.2,564.2 L427.2,554.2 L432.2,586.5 L437.2,587.2 L442.2,588.8 L447.2,580.1 L452.2,560.4 L457.2,574.3 L462.2,608.6 L467.2,611.1 L472.2,601.5 L477.2,608.6 L481.2,627.0 L486.1,654.5 L491.1,636.2 L496.1,625.6 L501.1,623.3 L506.1,618.6 L511.1,609.4 L516.1,627.8 L521.1,630.0 L526.1,635.3 L531.1,638.7 L536.1,636.2 L541.1,639.8 L546.1,632.8 L551.1,640.3 L555.1,640.3 L560.1,637.8 L565.1,635.8 L570.1,640.8 L575.1,642.3 L580.1,647.4 L585.0,647.9 L590.0,623.7 L595.0,617.8 L600.0,601.9 L605.0,584.4 L610.0,584.9 L615.0,586.1 L620.0,588.6 L624.0,591.9 L629.0,570.2 L634.0,562.6 L639.0,560.6 L644.0,558.8 L649.0,557.1 L654.0,545.4 L659.0,543.4 L664.0,537.9 L669.0,534.2 L674.0,532.2 L679.0,544.2 L684.0,537.6 L688.9,592.7 L693.9,567.7 L697.9,574.3 L702.9,578.9 L707.9,582.7 L712.9,578.5 L717.9,585.2 L722.9,615.3 L727.9,614.5 L732.9,617.8 L737.9,615.7 L742.9,613.8 L747.9,610.6 L752.9,634.4 L757.9,654.4 L762.9,665.3 L767.9,657.8 L771.9,661.1 L776.9,646.6 L781.9,651.9 L786.8,653.6 L791.8,649.9 L796.8,651.1 L801.8,662.0 L806.8,673.7 L811.8,662.0 L816.8,654.8 L821.8,661.1 L826.8,655.8 L831.8,651.1 L836.8,648.9 L841.8,654.4 L845.8,660.3 L850.8,655.8 L855.8,656.1 L860.8,652.4 L865.8,652.3 L870.8,638.6 L875.8,634.4 L880.8,638.2 L885.7,632.7 L890.7,631.9 L895.7,642.2 L900.7,643.1 L905.7,638.2 L910.7,639.7 L915.7,634.4 L919.7,635.2 L924.7,638.6 L929.7,643.6 L934.7,654.1 L939.7,651.9 L944.7,657.3 L949.7,655.8 L954.7,648.6 L959.7,653.2 L964.7,655.7 L969.7,658.2 L974.7,655.0 L979.7,654.5 L984.7,629.1 L988.6,632.3 L993.6,635.6 L998.6,628.1 L1003.6,628.6 L1008.6,625.3 L1013.6,591.8 L1018.6,601.9 L1023.6,611.6 L1028.6,610.6 L1033.6,598.0 L1038.6,599.7 L1043.6,613.6 L1048.6,612.2 L1053.6,617.2 L1058.6,644.5 L1062.6,636.6 L1067.6,637.0 L1072.6,647.5 L1077.6,645.3 L1082.6,626.1 L1087.5,633.6 L1092.5,633.1 L1097.5,615.2 L1102.5,608.5 L1107.5,617.2 L1112.5,604.7 L1117.5,598.5 L1122.5,593.0 L1127.5,590.2 L1132.5,572.6 L1136.5,562.9 L1141.5,583.1 L1146.5,587.6 L1151.5,584.6 L1156.5,575.1 L1161.5,569.6 L1166.5,613.6 L1171.5,613.2 L1176.5,615.2 L1176.5,587.5 L7.0,587.5 Z" fill="url(#gob)" clip-path="url(#cob)"/>
<g fill="none" stroke-width="1" shape-rendering="crispEdges">
<line x1="7" x2="1263" y1="587.5" y2="587.5" stroke="#787b86" stroke-dasharray="6 5"/>
<line x1="7" x2="1263" y1="638.5" y2="638.5" stroke="#787b86" stroke-opacity="0.5" stroke-dasharray="6 5"/>
<line x1="7" x2="1263" y1="689.5" y2="689.5" stroke="#787b86" stroke-dasharray="6 5"/>
</g>
<g clip-path="url(#cr)" fill="none" stroke-linejoin="round" stroke-linecap="round">
<path d="M7.0,646.2 L8.6,645.0 L13.6,641.2 L18.6,636.7 L23.6,631.8 L28.6,626.3 L33.6,621.1 L38.6,616.8 L42.6,612.5 L47.6,605.7 L52.6,598.1 L57.6,589.5 L62.6,581.8 L67.6,575.4 L72.6,570.4 L77.6,566.6 L82.5,564.1 L87.5,562.8 L92.5,560.1 L97.5,557.3 L102.5,554.0 L107.5,550.6 L112.5,549.9 L116.5,549.9 L121.5,549.4 L126.5,550.3 L131.5,554.4 L136.5,557.5 L141.5,561.3 L146.5,565.2 L151.5,569.5 L156.5,573.6 L161.5,578.5 L166.5,584.0 L171.5,590.4 L176.5,596.9 L181.5,602.0 L186.4,607.0 L190.4,610.5 L195.4,612.6 L200.4,612.4 L205.4,612.5 L210.4,610.7 L215.4,608.6 L220.4,605.7 L225.4,602.2 L230.4,599.0 L235.4,596.7 L240.4,593.2 L245.4,588.5 L250.4,584.8 L255.4,582.0 L260.4,581.4 L264.4,581.7 L269.4,583.1 L274.4,584.2 L279.4,586.7 L284.3,590.0 L289.3,593.6 L294.3,596.9 L299.3,598.8 L304.3,600.5 L309.3,603.7 L314.3,607.6 L319.3,611.6 L324.3,614.6 L329.3,617.1 L333.3,620.8 L338.3,623.1 L343.3,625.1 L348.3,627.5 L353.3,628.6 L358.3,629.9 L363.3,630.0 L368.3,630.3 L373.3,629.3 L378.3,627.1 L383.2,624.9 L388.2,620.2 L393.2,615.8 L398.2,610.1 L403.2,604.5 L407.2,599.4 L412.2,594.9 L417.2,589.2 L422.2,584.5 L427.2,579.1 L432.2,577.5 L437.2,576.1 L442.2,576.1 L447.2,575.5 L452.2,573.4 L457.2,573.4 L462.2,575.7 L467.2,579.5 L472.2,581.0 L477.2,583.1 L481.2,586.7 L486.1,593.4 L491.1,598.5 L496.1,603.6 L501.1,606.2 L506.1,608.5 L511.1,609.9 L516.1,613.3 L521.1,618.3 L526.1,622.7 L531.1,624.8 L536.1,626.6 L541.1,629.3 L546.1,631.1 L551.1,632.0 L555.1,631.0 L560.1,631.1 L565.1,631.9 L570.1,633.1 L575.1,634.8 L580.1,637.5 L585.0,639.0 L590.0,638.5 L595.0,637.3 L600.0,634.6 L605.0,630.9 L610.0,627.0 L615.0,623.7 L620.0,620.0 L624.0,616.5 L629.0,611.7 L634.0,606.5 L639.0,600.7 L644.0,594.8 L649.0,588.3 L654.0,581.0 L659.0,575.3 L664.0,569.6 L669.0,564.7 L674.0,561.0 L679.0,558.1 L684.0,554.6 L688.9,554.9 L693.9,553.2 L697.9,553.5 L702.9,554.7 L707.9,556.2 L712.9,557.6 L717.9,559.6 L722.9,564.6 L727.9,569.7 L732.9,575.4 L737.9,581.2 L742.9,587.1 L747.9,591.8 L752.9,598.7 L757.9,603.1 L762.9,610.1 L767.9,616.1 L771.9,621.9 L776.9,626.5 L781.9,631.8 L786.8,636.6 L791.8,639.1 L796.8,641.7 L801.8,644.9 L806.8,649.0 L811.8,652.5 L816.8,655.6 L821.8,657.5 L826.8,657.6 L831.8,656.6 L836.8,656.0 L841.8,655.5 L845.8,656.5 L850.8,656.8 L855.8,656.9 L860.8,657.1 L865.8,657.2 L870.8,655.5 L875.8,652.7 L880.8,651.0 L885.7,649.4 L890.7,647.4 L895.7,646.4 L900.7,645.8 L905.7,645.0 L910.7,644.0 L915.7,642.1 L919.7,640.7 L924.7,639.4 L929.7,638.8 L934.7,638.9 L939.7,639.9 L944.7,641.5 L949.7,642.8 L954.7,643.9 L959.7,645.4 L964.7,646.4 L969.7,647.5 L974.7,648.7 L979.7,649.7 L984.7,649.3 L988.6,649.1 L993.6,648.9 L998.6,647.8 L1003.6,646.0 L1008.6,644.1 L1013.6,639.4 L1018.6,635.6 L1023.6,632.9 L1028.6,629.9 L1033.6,625.8 L1038.6,621.6 L1043.6,618.6 L1048.6,615.6 L1053.6,614.7 L1058.6,615.6 L1062.6,615.7 L1067.6,616.3 L1072.6,617.7 L1077.6,619.1 L1082.6,621.6 L1087.5,623.8 L1092.5,625.4 L1097.5,625.7 L1102.5,626.5 L1107.5,627.7 L1112.5,627.1 L1117.5,626.1 L1122.5,624.4 L1127.5,620.5 L1132.5,615.9 L1136.5,610.6 L1141.5,606.0 L1146.5,601.9 L1151.5,598.9 L1156.5,594.7 L1161.5,590.2 L1166.5,590.1 L1171.5,590.4 L1176.5,590.3" stroke="#fde335" stroke-width="1.25"/>
<path d="M7.0,611.6 L8.6,606.0 L13.6,584.4 L18.6,571.8 L23.6,589.4 L28.6,575.2 L33.6,579.4 L38.6,590.6 L42.6,576.9 L47.6,565.2 L52.6,568.5 L57.6,561.8 L62.6,541.7 L67.6,553.1 L72.6,543.9 L77.6,543.4 L82.5,542.6 L87.5,552.1 L92.5,550.6 L97.5,536.7 L102.5,531.7 L107.5,540.1 L112.5,566.8 L116.5,565.5 L121.5,562.1 L126.5,573.5 L131.5,599.9 L136.5,596.1 L141.5,596.6 L146.5,598.9 L151.5,602.8 L156.5,608.6 L161.5,619.5 L166.5,614.5 L171.5,620.8 L176.5,631.2 L181.5,637.6 L186.4,635.7 L190.4,611.1 L195.4,602.8 L200.4,597.8 L205.4,596.9 L210.4,571.8 L215.4,569.3 L220.4,561.7 L225.4,559.6 L230.4,576.0 L235.4,581.0 L240.4,572.6 L245.4,565.9 L250.4,585.2 L255.4,596.0 L260.4,602.7 L264.4,607.7 L269.4,617.3 L274.4,612.2 L279.4,606.9 L284.3,615.3 L289.3,612.2 L294.3,606.1 L299.3,602.7 L304.3,603.5 L309.3,618.3 L314.3,620.3 L319.3,640.7 L324.3,639.0 L329.3,637.0 L333.3,659.6 L338.3,649.5 L343.3,640.3 L348.3,640.0 L353.3,630.8 L358.3,630.3 L363.3,608.2 L368.3,606.9 L373.3,588.8 L378.3,588.0 L383.2,589.7 L388.2,574.8 L393.2,577.1 L398.2,556.7 L403.2,581.5 L407.2,578.8 L412.2,576.5 L417.2,561.4 L422.2,564.2 L427.2,554.2 L432.2,586.5 L437.2,587.2 L442.2,588.8 L447.2,580.1 L452.2,560.4 L457.2,574.3 L462.2,608.6 L467.2,611.1 L472.2,601.5 L477.2,608.6 L481.2,627.0 L486.1,654.5 L491.1,636.2 L496.1,625.6 L501.1,623.3 L506.1,618.6 L511.1,609.4 L516.1,627.8 L521.1,630.0 L526.1,635.3 L531.1,638.7 L536.1,636.2 L541.1,639.8 L546.1,632.8 L551.1,640.3 L555.1,640.3 L560.1,637.8 L565.1,635.8 L570.1,640.8 L575.1,642.3 L580.1,647.4 L585.0,647.9 L590.0,623.7 L595.0,617.8 L600.0,601.9 L605.0,584.4 L610.0,584.9 L615.0,586.1 L620.0,588.6 L624.0,591.9 L629.0,570.2 L634.0,562.6 L639.0,560.6 L644.0,558.8 L649.0,557.1 L654.0,545.4 L659.0,543.4 L664.0,537.9 L669.0,534.2 L674.0,532.2 L679.0,544.2 L684.0,537.6 L688.9,592.7 L693.9,567.7 L697.9,574.3 L702.9,578.9 L707.9,582.7 L712.9,578.5 L717.9,585.2 L722.9,615.3 L727.9,614.5 L732.9,617.8 L737.9,615.7 L742.9,613.8 L747.9,610.6 L752.9,634.4 L757.9,654.4 L762.9,665.3 L767.9,657.8 L771.9,661.1 L776.9,646.6 L781.9,651.9 L786.8,653.6 L791.8,649.9 L796.8,651.1 L801.8,662.0 L806.8,673.7 L811.8,662.0 L816.8,654.8 L821.8,661.1 L826.8,655.8 L831.8,651.1 L836.8,648.9 L841.8,654.4 L845.8,660.3 L850.8,655.8 L855.8,656.1 L860.8,652.4 L865.8,652.3 L870.8,638.6 L875.8,634.4 L880.8,638.2 L885.7,632.7 L890.7,631.9 L895.7,642.2 L900.7,643.1 L905.7,638.2 L910.7,639.7 L915.7,634.4 L919.7,635.2 L924.7,638.6 L929.7,643.6 L934.7,654.1 L939.7,651.9 L944.7,657.3 L949.7,655.8 L954.7,648.6 L959.7,653.2 L964.7,655.7 L969.7,658.2 L974.7,655.0 L979.7,654.5 L984.7,629.1 L988.6,632.3 L993.6,635.6 L998.6,628.1 L1003.6,628.6 L1008.6,625.3 L1013.6,591.8 L1018.6,601.9 L1023.6,611.6 L1028.6,610.6 L1033.6,598.0 L1038.6,599.7 L1043.6,613.6 L1048.6,612.2 L1053.6,617.2 L1058.6,644.5 L1062.6,636.6 L1067.6,637.0 L1072.6,647.5 L1077.6,645.3 L1082.6,626.1 L1087.5,633.6 L1092.5,633.1 L1097.5,615.2 L1102.5,608.5 L1107.5,617.2 L1112.5,604.7 L1117.5,598.5 L1122.5,593.0 L1127.5,590.2 L1132.5,572.6 L1136.5,562.9 L1141.5,583.1 L1146.5,587.6 L1151.5,584.6 L1156.5,575.1 L1161.5,569.6 L1166.5,613.6 L1171.5,613.2 L1176.5,615.2" stroke="#7e57c2" stroke-width="3"/>
</g>
<g stroke="#e0e3eb" stroke-width="1" shape-rendering="crispEdges">
<line x1="6.5" x2="6.5" y1="0" y2="727"/>
<line x1="1263.5" x2="1263.5" y1="0" y2="727" stroke="#d9dbe1"/>
<line x1="7" x2="1330" y1="522.5" y2="522.5"/>
<line x1="7" x2="1330" y1="699.5" y2="699.5"/>
<line x1="0" x2="1330" y1="726.5" y2="726.5"/>
</g>
<rect x="1330" y="0" width="2" height="727" fill="#ecedf5"/>
<text x="1272.5" y="57.6" fill="#131722" stroke="#131722" stroke-width="0.3" text-anchor="start" textLength="28.8" lengthAdjust="spacingAndGlyphs">8.000</text>
<text x="1272.5" y="92.6" fill="#131722" stroke="#131722" stroke-width="0.3" text-anchor="start" textLength="28.8" lengthAdjust="spacingAndGlyphs">7.500</text>
<text x="1272.5" y="127.6" fill="#131722" stroke="#131722" stroke-width="0.3" text-anchor="start" textLength="28.8" lengthAdjust="spacingAndGlyphs">7.000</text>
<text x="1272.5" y="161.6" fill="#131722" stroke="#131722" stroke-width="0.3" text-anchor="start" textLength="28.8" lengthAdjust="spacingAndGlyphs">6.500</text>
<text x="1272.5" y="196.6" fill="#131722" stroke="#131722" stroke-width="0.3" text-anchor="start" textLength="28.8" lengthAdjust="spacingAndGlyphs">6.000</text>
<text x="1272.5" y="230.6" fill="#131722" stroke="#131722" stroke-width="0.3" text-anchor="start" textLength="28.8" lengthAdjust="spacingAndGlyphs">5.500</text>
<text x="1272.5" y="264.6" fill="#131722" stroke="#131722" stroke-width="0.3" text-anchor="start" textLength="28.8" lengthAdjust="spacingAndGlyphs">5.000</text>
<text x="1272.5" y="299.6" fill="#131722" stroke="#131722" stroke-width="0.3" text-anchor="start" textLength="28.8" lengthAdjust="spacingAndGlyphs">4.500</text>
<text x="1272.5" y="333.6" fill="#131722" stroke="#131722" stroke-width="0.3" text-anchor="start" textLength="28.8" lengthAdjust="spacingAndGlyphs">4.000</text>
<text x="1272.5" y="368.6" fill="#131722" stroke="#131722" stroke-width="0.3" text-anchor="start" textLength="28.8" lengthAdjust="spacingAndGlyphs">3.500</text>
<text x="1272.5" y="402.6" fill="#131722" stroke="#131722" stroke-width="0.3" text-anchor="start" textLength="28.8" lengthAdjust="spacingAndGlyphs">3.000</text>
<text x="1272.5" y="436.6" fill="#131722" stroke="#131722" stroke-width="0.3" text-anchor="start" textLength="28.8" lengthAdjust="spacingAndGlyphs">2.500</text>
<text x="1272.5" y="471.6" fill="#131722" stroke="#131722" stroke-width="0.3" text-anchor="start" textLength="28.8" lengthAdjust="spacingAndGlyphs">2.000</text>
<text x="1272.5" y="505.6" fill="#131722" stroke="#131722" stroke-width="0.3" text-anchor="start" textLength="28.8" lengthAdjust="spacingAndGlyphs">1.500</text>
<text x="1272.4" y="565.9" fill="#131722" stroke="#131722" stroke-width="0.3" text-anchor="start" textLength="29.2" lengthAdjust="spacingAndGlyphs">80.00</text>
<text x="1272.4" y="666.9" fill="#131722" stroke="#131722" stroke-width="0.3" text-anchor="start" textLength="29.2" lengthAdjust="spacingAndGlyphs">40.00</text>
<text x="151.7" y="716.7" fill="#131722" stroke="#131722" stroke-width="0.3" text-anchor="middle">9</text>
<text x="240.3" y="716.7" fill="#131722" stroke="#131722" stroke-width="0.3" text-anchor="middle">12</text>
<text x="358.6" y="716.7" fill="#131722" stroke="#131722" stroke-width="0.3" text-anchor="middle">16</text>
<text x="447.3" y="716.7" fill="#131722" stroke="#131722" stroke-width="0.3" text-anchor="middle">19</text>
<text x="565.5" y="716.7" fill="#131722" stroke="#131722" stroke-width="0.3" text-anchor="middle">23</text>
<text x="654.2" y="716.7" fill="#131722" stroke="#131722" stroke-width="0.3" text-anchor="middle">26</text>
<text x="742.8" y="716.7" fill="#131722" stroke="#131722" stroke-width="0.3" text-anchor="middle">29</text>
<text x="831.5" y="716.7" fill="#131722" stroke="#131722" stroke-width="0.3" text-anchor="middle" font-weight="bold">2025</text>
<text x="979.3" y="716.7" fill="#131722" stroke="#131722" stroke-width="0.3" text-anchor="middle">6</text>
<text x="1068.0" y="716.7" fill="#131722" stroke="#131722" stroke-width="0.3" text-anchor="middle">9</text>
<text x="1186.2" y="716.7" fill="#131722" stroke="#131722" stroke-width="0.3" text-anchor="middle">13</text>
<text x="15.2" y="11.8" fill="#131722" stroke="#131722" stroke-width="0.3" text-anchor="start" textLength="144.6" lengthAdjust="spacingAndGlyphs">BGBUSDT SPOT, 4h, BITGET</text>
<text x="169.0" y="11.8" fill="#131722" stroke="#131722" stroke-width="0.3" text-anchor="start" textLength="7.6" lengthAdjust="spacingAndGlyphs">O</text>
<text x="177.0" y="11.8" fill="#ef5350" stroke="#ef5350" stroke-width="0.3" text-anchor="start" textLength="28.6" lengthAdjust="spacingAndGlyphs">7.075</text>
<text x="214.0" y="11.8" fill="#131722" stroke="#131722" stroke-width="0.3" text-anchor="start" textLength="7.2" lengthAdjust="spacingAndGlyphs">H</text>
<text x="221.7" y="11.8" fill="#ef5350" stroke="#ef5350" stroke-width="0.3" text-anchor="start" textLength="28.6" lengthAdjust="spacingAndGlyphs">7.075</text>
<text x="258.5" y="11.8" fill="#131722" stroke="#131722" stroke-width="0.3" text-anchor="start" textLength="5.2" lengthAdjust="spacingAndGlyphs">L</text>
<text x="264.2" y="11.8" fill="#ef5350" stroke="#ef5350" stroke-width="0.3" text-anchor="start" textLength="28.8" lengthAdjust="spacingAndGlyphs">7.059</text>
<text x="301.0" y="11.8" fill="#131722" stroke="#131722" stroke-width="0.3" text-anchor="start" textLength="6.6" lengthAdjust="spacingAndGlyphs">C</text>
<text x="308.3" y="11.8" fill="#ef5350" stroke="#ef5350" stroke-width="0.3" text-anchor="start" textLength="28.8" lengthAdjust="spacingAndGlyphs">7.060</text>
<text x="345.0" y="11.8" fill="#ef5350" stroke="#ef5350" stroke-width="0.3" text-anchor="start" textLength="84.0" lengthAdjust="spacingAndGlyphs">−0.015 (−0.21%)</text>
<text x="15.2" y="29.3" fill="#131722" stroke="#131722" stroke-width="0.3" text-anchor="start" textLength="82.0" lengthAdjust="spacingAndGlyphs">EMA (20, close)</text>
<text x="104.7" y="29.3" fill="#2962ff" stroke="#2962ff" stroke-width="0.3" text-anchor="start" textLength="29.3" lengthAdjust="spacingAndGlyphs">6.914</text>
<text x="15.2" y="45.8" fill="#131722" stroke="#131722" stroke-width="0.3" text-anchor="start" textLength="81.0" lengthAdjust="spacingAndGlyphs">SMA (50, close)</text>
<text x="104.0" y="45.8" fill="#f23645" stroke="#f23645" stroke-width="0.3" text-anchor="start" textLength="29.3" lengthAdjust="spacingAndGlyphs">6.488</text>
<text x="15.2" y="541.8" fill="#131722" stroke="#131722" stroke-width="0.3" text-anchor="start" textLength="76.0" lengthAdjust="spacingAndGlyphs">RSI (14, close)</text>
<text x="99.8" y="541.8" fill="#7e57c2" stroke="#7e57c2" stroke-width="0.3" text-anchor="start" textLength="28.3" lengthAdjust="spacingAndGlyphs">59.00</text>
<text x="135.5" y="541.8" fill="#fdd835" stroke="#fdd835" stroke-width="0.3" text-anchor="start" textLength="29.2" lengthAdjust="spacingAndGlyphs">68.67</text>
<text x="172.0" y="541.8" fill="#131722" stroke="#131722" stroke-width="0.3" text-anchor="start" textLength="7.6" lengthAdjust="spacingAndGlyphs">∅</text>
<text x="188.5" y="541.8" fill="#131722" stroke="#131722" stroke-width="0.3" text-anchor="start" textLength="7.6" lengthAdjust="spacingAndGlyphs">∅</text>
<text x="203.7" y="541.8" fill="#131722" stroke="#131722" stroke-width="0.3" text-anchor="start" textLength="7.6" lengthAdjust="spacingAndGlyphs">∅</text>
<text x="218.5" y="541.8" fill="#131722" stroke="#131722" stroke-width="0.3" text-anchor="start" textLength="7.6" lengthAdjust="spacingAndGlyphs">∅</text>
<path d="M1267.5,0 V19 a4,4 0 0 0 4,4 H1323 a4,4 0 0 0 4,-4 V0" fill="#fff" stroke="#e8e9f3" stroke-width="1.2"/>
<text x="1276.4" y="14.8" fill="#131722" stroke="#131722" stroke-width="0.3" text-anchor="start" textLength="27.4" lengthAdjust="spacingAndGlyphs">USDT</text>
<path d="M1207,111 H1263 V128 H1207 a2,2 0 0 1 -2,-2 V113 a2,2 0 0 1 2,-2 Z" fill="#ef5350"/>
<path d="M1264,111 H1325 a2,2 0 0 1 2,2 V154 a2,2 0 0 1 -2,2 H1264 V111 Z" fill="#ef5350"/>
<text x="1210.0" y="123.6" fill="#fff" stroke="#fff" stroke-width="0.3" text-anchor="start" textLength="48.0" lengthAdjust="spacingAndGlyphs">BGBUSDT</text>
<text x="1272.7" y="123.6" fill="#fff" stroke="#fff" stroke-width="0.3" text-anchor="start" textLength="28.8" lengthAdjust="spacingAndGlyphs">7.060</text>
<text x="1272.7" y="137.9" fill="#fff" stroke="#fff" stroke-width="0.3" text-anchor="start" textLength="48.5" lengthAdjust="spacingAndGlyphs">+334.41%</text>
<text x="1272.7" y="151.5" fill="#fff" stroke="#fff" stroke-width="0.3" text-anchor="start" textLength="45.2" lengthAdjust="spacingAndGlyphs" fill-opacity="0.75">03:52:02</text>
<path d="M1234,156 H1263 V173 H1234 a2,2 0 0 1 -2,-2 V158 a2,2 0 0 1 2,-2 Z" fill="#2962ff"/>
<path d="M1264,156 H1305 a2,2 0 0 1 2,2 V171 a2,2 0 0 1 -2,2 H1264 V156 Z" fill="#2962ff"/>
<text x="1237.3" y="168.8" fill="#fff" stroke="#fff" stroke-width="0.3" text-anchor="start" textLength="21.7" lengthAdjust="spacingAndGlyphs">EMA</text>
<text x="1272.7" y="168.8" fill="#fff" stroke="#fff" stroke-width="0.3" text-anchor="start" textLength="28.8" lengthAdjust="spacingAndGlyphs">6.914</text>
<path d="M1215,173 H1263 V190 H1215 a2,2 0 0 1 -2,-2 V175 a2,2 0 0 1 2,-2 Z" fill="#f23645"/>
<path d="M1264,173 H1305 a2,2 0 0 1 2,2 V188 a2,2 0 0 1 -2,2 H1264 V173 Z" fill="#f23645"/>
<text x="1218.0" y="185.3" fill="#fff" stroke="#fff" stroke-width="0.3" text-anchor="start" textLength="41.0" lengthAdjust="spacingAndGlyphs">SMA:MA</text>
<text x="1272.7" y="185.3" fill="#fff" stroke="#fff" stroke-width="0.3" text-anchor="start" textLength="28.8" lengthAdjust="spacingAndGlyphs">6.488</text>
<path d="M1186,583 H1263 V600 H1186 a2,2 0 0 1 -2,-2 V585 a2,2 0 0 1 2,-2 Z" fill="#ffeb3b"/>
<path d="M1264,583 H1305 a2,2 0 0 1 2,2 V598 a2,2 0 0 1 -2,2 H1264 V583 Z" fill="#ffeb3b"/>
<text x="1188.6" y="595.5" fill="#131722" stroke="#131722" stroke-width="0.3" text-anchor="start" textLength="70.6" lengthAdjust="spacingAndGlyphs">RSI-based MA</text>
<text x="1272.4" y="595.5" fill="#131722" stroke="#131722" stroke-width="0.3" text-anchor="start" textLength="29.2" lengthAdjust="spacingAndGlyphs">68.67</text>
<path d="M1240,607 H1263 V624 H1240 a2,2 0 0 1 -2,-2 V609 a2,2 0 0 1 2,-2 Z" fill="#7e57c2"/>
<path d="M1264,607 H1305 a2,2 0 0 1 2,2 V622 a2,2 0 0 1 -2,2 H1264 V607 Z" fill="#7e57c2"/>
<text x="1243.0" y="619.6" fill="#fff" stroke="#fff" stroke-width="0.3" text-anchor="start" textLength="16.4" lengthAdjust="spacingAndGlyphs">RSI</text>
<text x="1272.4" y="619.6" fill="#fff" stroke="#fff" stroke-width="0.3" text-anchor="start" textLength="29.2" lengthAdjust="spacingAndGlyphs">59.00</text>
<circle cx="1176.6" cy="509.4" r="9.75" fill="none" stroke="#9c27b0" stroke-width="1.5"/>
<path d="M1178.9,504.0 L1172.2,509.7 L1176.1,509.9 L1173.2,514.9 L1180.7,509.2 L1177.2,509.0 Z" fill="#9c27b0" stroke="#9c27b0" stroke-width="0.4" stroke-linejoin="round"/>
<circle cx="1183.5" cy="502.5" r="4.4" fill="#fff"/><circle cx="1183.5" cy="502.5" r="2.6" fill="#f23645"/>
<g fill="#8a8d96" fill-opacity="0.55">
<rect x="1121" y="728" width="3" height="2"/>
<rect x="1120" y="729" width="5" height="1"/>
<rect x="1149" y="729" width="7" height="1"/>
<rect x="1148" y="729.4" width="9" height="0.6"/>
<rect x="1165" y="728.4" width="5" height="1.6"/>
<rect x="1172" y="728.4" width="6" height="1.6"/>
<rect x="1219" y="728.6" width="5" height="1.4"/>
<rect x="1233" y="728" width="1" height="2"/>
<rect x="1247" y="728" width="2" height="2"/>
<rect x="1260" y="728.5" width="5" height="1.5"/>
<rect x="1268" y="728.5" width="4" height="1.5"/>
<rect x="1281" y="728" width="1" height="2"/>
<rect x="1312" y="728" width="1.4" height="2"/>
</g>
</svg>
</body></html>
